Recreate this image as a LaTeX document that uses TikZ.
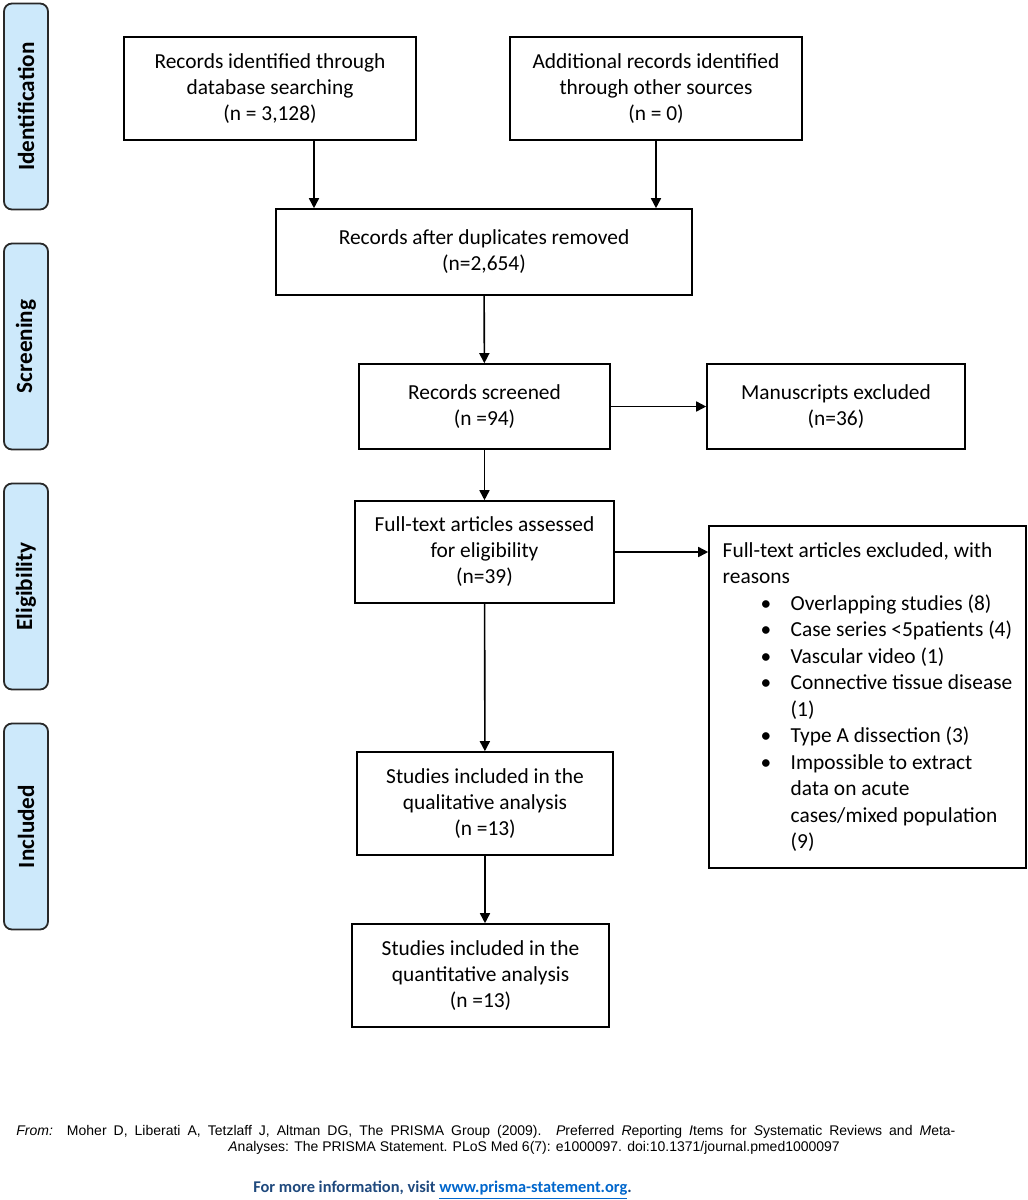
\documentclass[tikz,border=0pt]{standalone}
\usepackage{fontspec}
\setmainfont{Carlito}
\newfontfamily\arialfont{Liberation Sans}
\usetikzlibrary{arrows,arrows.meta}
\definecolor{StageClr}{RGB}{205,233,251}
\definecolor{StageLine}{RGB}{40,40,40}
\definecolor{NoteClr}{RGB}{31,73,125}
\definecolor{LinkClr}{RGB}{0,102,204}
\newcommand{\rsn}[1]{\hspace*{19pt}\makebox[15pt][l]{\textbullet}#1}
\newcommand{\rsncont}[1]{\hspace*{34pt}#1}

\begin{document}
\begin{tikzpicture}[x=0.5pt,y=-0.5pt,
  every node/.style={font=\fontsize{10.7}{13}\selectfont},
  box/.style={draw,line width=0.8pt,align=center,inner sep=0pt},
  stage/.style={draw=StageLine,fill=StageClr,line width=0.9pt,rounded corners=4pt,rotate=90,
    minimum width=103pt,minimum height=22pt,inner sep=0pt,font=\fontsize{11.6}{13}\selectfont\bfseries},
  arr/.style={-{Triangle[length=5pt,width=5pt]},line width=0.8pt}]
\useasboundingbox (0,0) rectangle (1028,1200);

\node[stage] (Ident) at (26,106.5) {Identification};
\node[stage] (Screen) at (26,346.5) {Screening};
\node[stage] (Elig) at (26,586.5) {Eligibility};
\node[stage] (Incl) at (26,826.5) {Included};

\node[box,minimum width=146pt,minimum height=51.5pt] (Dbase) at (270,88.5)
  {Records identified through\\ database searching\\ (n = 3,128)};
\node[box,minimum width=146pt,minimum height=51.5pt] (Other) at (656,88.5)
  {Additional records identified\\ through other sources\\ (n = 0)};
\node[box,minimum width=208pt,minimum height=43pt] (Dupl) at (484,252)
  {Records after duplicates removed\\ (n=2,654)};
\node[box,minimum width=125.5pt,minimum height=42.5pt] (Scr) at (484.5,406.5)
  {Records screened\\ (n =94)};
\node[box,minimum width=129pt,minimum height=42.5pt] (ManEx) at (836,406.5)
  {Manuscripts excluded\\ (n=36)};
\node[box,minimum width=129.5pt,minimum height=51pt] (Full) at (484.5,552)
  {Full-text articles assessed\\ for eligibility\\ (n=39)};
\node[box,align=left,minimum width=158.5pt,minimum height=171pt,
  font=\fontsize{10.7}{13.25}\selectfont] (FullEx) at (867.5,697)
  {Full-text articles excluded, with\\ reasons\\
   \rsn{Overlapping studies (8)}\\ \rsn{Case series <5patients (4)}\\
   \rsn{Vascular video (1)}\\ \rsn{Connective tissue disease}\\ \rsncont{(1)}\\
   \rsn{Type A dissection (3)}\\ \rsn{Impossible to extract}\\
   \rsncont{data on acute}\\ \rsncont{cases/mixed population}\\ \rsncont{(9)}};
\node[box,minimum width=128pt,minimum height=51.5pt] (Qual) at (485,803.5)
  {Studies included in the\\ qualitative analysis\\ (n =13)};
\node[box,minimum width=128.5pt,minimum height=51.5pt] (Quant) at (480.5,975.5)
  {Studies included in the\\ quantitative analysis\\ (n =13)};

\draw[arr] ([xshift=22pt]Dbase.south) -- ([xshift=22pt]Dbase.south |- Dupl.north);
\draw[arr] (Other.south) -- (Other.south |- Dupl.north);
\draw[arr] (Dupl) -- (Scr);
\draw[arr] (Scr) -- (ManEx);
\draw[arr] (Scr) -- (Full);
\draw[arr] (Full.east) -- (Full.east -| FullEx.west);
\draw[arr] (Full) -- (Qual);
\draw[arr] (Qual.south) -- (Qual.south |- Quant.north);

\node[anchor=west,align=left,inner sep=0pt,font=\arialfont\fontsize{7}{8}\selectfont] (Src) at (16,1140)
  {\makebox[469.5pt][s]{\textit{From:}\ \ Moher D, Liberati A, Tetzlaff J, Altman DG, The PRISMA Group (2009). \textit{P}referred \textit{R}eporting \textit{I}tems for \textit{S}ystematic Reviews and \textit{M}eta-}\\
   \hspace*{106pt}\textit{A}nalyses: The PRISMA Statement. PLoS Med 6(7): e1000097. doi:10.1371/journal.pmed1000097};
\node[font=\fontsize{8.2}{10}\selectfont\bfseries,text=NoteClr] (Info) at (442.5,1190)
  {For more information, visit \textcolor{LinkClr}{\underline{www.prisma-statement.org}}.};
\end{tikzpicture}
\end{document}
